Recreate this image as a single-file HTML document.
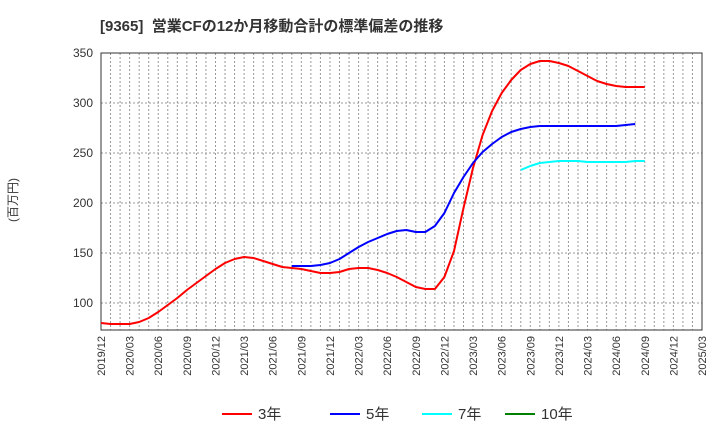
<!DOCTYPE html>
<html><head><meta charset="utf-8"><style>
body{margin:0;background:#fff;}
svg text{font-family:"Liberation Sans","Noto Sans CJK JP",sans-serif;}
</style></head><body>
<svg width="720" height="440" xmlns="http://www.w3.org/2000/svg">
<text x="100" y="31" font-size="15" font-weight="bold" fill="#333">[9365]&#160; 営業CFの12か月移動合計の標準偏差の推移</text>
<text transform="translate(17,200) rotate(-90)" font-size="12" fill="#333" text-anchor="middle">(百万円)</text>
<g id="grid"></g><g id="axes"></g><g id="series"></g><g id="legend"></g>
</svg>
<script>
const yTicks=[100,150,200,250,300,350];
const xTickLabels=["2019/12","2020/03","2020/06","2020/09","2020/12","2021/03","2021/06","2021/09","2021/12","2022/03","2022/06","2022/09","2022/12","2023/03","2023/06","2023/09","2023/12","2024/03","2024/06","2024/09","2024/12","2025/03"];
const s3=[80,79,79,79,81,85,91,98,105,113,120,127,134,140,144,146,145,142,139,136,135,134,132,130,130,131,134,135,135,133,130,126,121,116,114,114,126,152,195,235,268,292,310,323,333,339,342,342,340,337,332,327,322,319,317,316,316,316];
const s5=[137,137,137,138,140,144,150,156,161,165,169,172,173,171,171,177,190,210,226,240,251,259,266,271,274,276,277,277,277,277,277,277,277,277,277,278,279];
const s5start=20;
const s7=[233,237,240,241,242,242,242,241,241,241,241,241,242,242];
const s7start=44;
const L=101,R=702,T=53,B=330;
const ns="http://www.w3.org/2000/svg";
const mw=(R-L)/63;
const X=i=>L+i*mw;
const Y=v=>303-(v-100);
function mk(tag,attrs,parent){const e=document.createElementNS(ns,tag);for(const k in attrs)e.setAttribute(k,attrs[k]);document.getElementById(parent).appendChild(e);return e;}
for(let i=1;i<63;i++){const l=mk('line',{x1:X(i),x2:X(i),y1:T,y2:B,stroke:'#999','stroke-dasharray':'2,2','stroke-width':1},'grid');}
yTicks.forEach(v=>{const l=mk('line',{x1:L,x2:R,y1:Y(v),y2:Y(v),stroke:'#999','stroke-dasharray':'2,2'},'grid');
const t=mk('text',{x:L-8,y:Y(v)+4,'font-size':12,'text-anchor':'end',fill:'#333'},'axes');t.textContent=v;});
const fr=mk('rect',{x:L,y:T,width:R-L,height:B-T,fill:'none',stroke:'#333'},'axes');
xTickLabels.forEach((s,i)=>{const x=X(i*3);const t=mk('text',{transform:`translate(${x+4},${B+6}) rotate(-90)`,'font-size':11,'text-anchor':'end',fill:'#333'},'axes');t.textContent=s;});
function line(arr,start,color,name){const d=arr.map((v,i)=>(i?'L':'M')+X(start+i).toFixed(1)+','+Y(v).toFixed(1)).join('');const p=mk('path',{d,fill:'none',stroke:color,'stroke-width':2,'stroke-linejoin':'round'},'series');}
line(s3,0,'#ff0000','series-3y');line(s5,s5start,'#0000ff','series-5y');line(s7,s7start,'#00ffff','series-7y');
const leg=[['3年','#ff0000',222],['5年','#0000ff',330],['7年','#00ffff',422],['10年','#008000',505]];
leg.forEach(([n,c,x])=>{const l=mk('line',{x1:x,x2:x+30,y1:414,y2:414,stroke:c,'stroke-width':2},'legend');
const t=mk('text',{x:x+36,y:419,'font-size':15,fill:'#333'},'legend');t.textContent=n;});
</script>
</body></html>
